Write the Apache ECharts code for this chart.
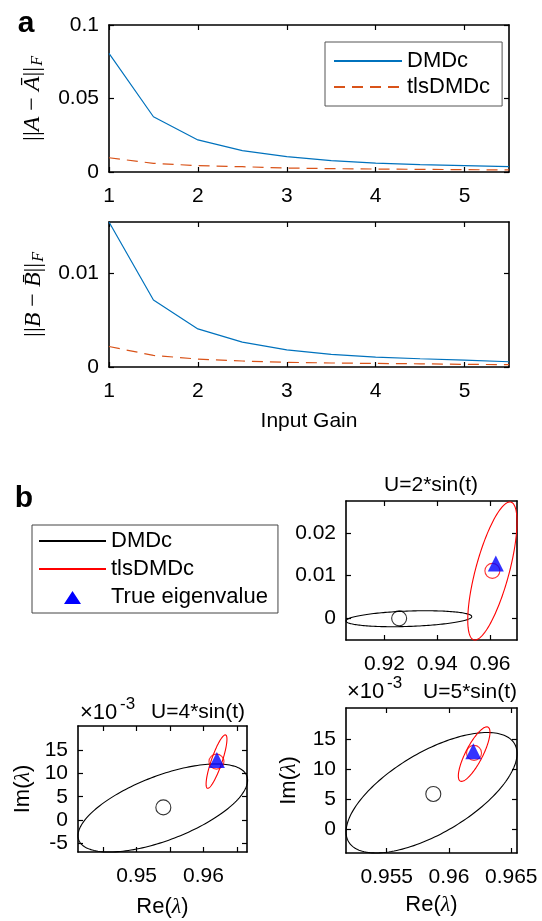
<!DOCTYPE html>
<html>
<head>
<meta charset="utf-8">
<script src="https://cdn.jsdelivr.net/npm/echarts@6/dist/echarts.min.js"></script>
<style>
html, body { margin: 0; background: #fff; }
#chart { width: 542px; height: 921px; }
</style>
</head>
<body>
<div id="chart"></div>
<script>
const FONT = 'Liberation Sans, Arial, sans-serif'
const SERIF = 'Liberation Serif, DejaVu Serif, serif'
const BLUE = '#0072BD'
const ORANGE = '#D95319'

// panel a: error vs input gain
const inputGain = [1, 1.5, 2, 2.5, 3, 3.5, 4, 4.5, 5, 5.5]
const errA_dmdc = [0.0807, 0.0376, 0.0218, 0.0145, 0.0104, 0.0077, 0.0061, 0.005, 0.0043, 0.0036]
const errA_tls = [0.0097, 0.0059, 0.0043, 0.0036, 0.0027, 0.0023, 0.002, 0.0018, 0.0016, 0.0014]
const errB_dmdc = [0.0155, 0.00716, 0.00407, 0.00266, 0.00184, 0.00134, 0.00106, 0.00088, 0.00074, 0.00056]
const errB_tls = [0.00219, 0.00124, 0.00085, 0.00064, 0.0005, 0.00043, 0.00038, 0.00034, 0.00028, 0.00025]
const gainTicks = [1, 2, 3, 4, 5]
const errATicks = [0, 0.05, 0.1]
const errBTicks = [0, 0.01]

// panel b: eigenvalue scatter, one entry per input case
// (U=4 and U=5 imaginary parts are in units of 1e-3)
const caseTitles = ['U=2*sin(t)', 'U=4*sin(t)', 'U=5*sin(t)']
const reRange = [[0.90545, 0.97019], [0.94123, 0.96652], [0.95173, 0.96546]]
const imRange = [[-0.00507, 0.02748], [-6.8, 20.1], [-3.86, 20.1]]
const reTicks = [[0.92, 0.94, 0.96], [0.945, 0.95, 0.955, 0.96, 0.965], [0.955, 0.96, 0.965]]
const reTickLabels = [[0.92, 0.94, 0.96], [0.95, 0.96], [0.955, 0.96, 0.965]]
const imTicks = [[0, 0.01, 0.02], [-5, 0, 5, 10, 15], [0, 5, 10, 15]]
// ellipse: [centre re, centre im, half width re, half height im, correlation]
const ellipseDMDc = [[0.92926, -0.00009, 0.0238, 0.00187, 0.27], [0.95392, 2.6, 0.01269, 9.4, 0.63], [0.9586, 6.1, 0.006865, 9.95, 0.65]]
const ellipseTls = [[0.96087, 0.01109, 0.00932, 0.01616, 0.71], [0.96196, 12.5, 0.00156, 5.7, 0.84], [0.96202, 12.48, 0.00127, 4.5, 0.8]]
const meanDMDc = [[0.92557, 0], [0.954, 2.72], [0.95874, 5.9]]
const meanTls = [[0.96087, 0.01112], [0.96195, 12.5], [0.96201, 12.68]]
const trueEig = [[0.96216, 0.01285], [0.96201, 12.85], [0.96195, 12.95]]

const grids = []
const xAxes = []
const yAxes = []

function fmt(v) {
	return String(Math.round(v * 1e6) / 1e6)
}

function axisDef(dim, g, c, mirror) {
	return {
		type: 'value',
		gridIndex: g,
		position: dim === 'x' ? (mirror ? 'top' : 'bottom') : mirror ? 'right' : 'left',
		min: c.min,
		max: c.max,
		name: mirror ? '' : c.name || '',
		nameLocation: 'middle',
		nameGap: c.nameGap,
		nameTextStyle: c.nameStyle,
		axisLine: { show: true, onZero: false, lineStyle: { color: '#000', width: 1.6 } },
		axisTick: { show: true, inside: true, length: 5, customValues: c.ticks, lineStyle: { color: '#000', width: 1.2 } },
		axisLabel: {
			show: !mirror,
			customValues: c.labels || c.ticks,
			formatter: fmt,
			margin: dim === 'x' ? 14 : 10,
			fontSize: c.fontSize || 21,
			fontFamily: FONT,
			color: '#000'
		},
		splitLine: { show: false }
	}
}

function addPanel(rect, xCfg, yCfg) {
	const g = grids.length
	grids.push({ left: rect[0], top: rect[1], width: rect[2], height: rect[3], containLabel: false, outerBoundsMode: 'none' })
	;[false, true].forEach(function (mirror) {
		xAxes.push(axisDef('x', g, xCfg, mirror))
		yAxes.push(axisDef('y', g, yCfg, mirror))
	})
	return g
}

const normRich = {
	r: { fontFamily: SERIF, fontSize: 24, lineHeight: 26, color: '#000' },
	i: { fontFamily: SERIF, fontStyle: 'italic', fontSize: 24, lineHeight: 26, color: '#000' },
	s: { fontFamily: SERIF, fontStyle: 'italic', fontSize: 16, lineHeight: 16, padding: [10, 0, 0, 1], verticalAlign: 'bottom', color: '#000' }
}
const lambdaRich = {
	t: { fontFamily: FONT, fontSize: 22, color: '#000' },
	l: { fontFamily: SERIF, fontStyle: 'italic', fontSize: 22, color: '#000' }
}
const gainName = { fontFamily: FONT, fontSize: 21, color: '#000' }

const gA = addPanel([109, 25, 400, 147],
	{ min: 1, max: 5.5, ticks: gainTicks },
	{ min: 0, max: 0.1, ticks: errATicks, name: '{r|||}{i|A}{r| − }{i|Ā}{r|||}{s|F}', nameGap: 63, nameStyle: { rich: normRich } })
const gB = addPanel([109, 222, 400, 145],
	{ min: 1, max: 5.5, ticks: gainTicks, name: 'Input Gain', nameGap: 44, nameStyle: gainName },
	{ min: 0, max: 0.0155, ticks: errBTicks, name: '{r|||}{i|B}{r| − }{i|B\u0304}{r|||}{s|F}', nameGap: 62, nameStyle: { rich: normRich } })

const caseRects = [[346, 501, 171, 139], [78, 726, 169, 126], [346, 708, 171, 145]]
const reNameGap = [0, 44, 41]
const imNameGap = [0, 44, 46]
const caseGrids = caseTitles.map(function (t, k) {
	return addPanel(caseRects[k],
		{
			min: reRange[k][0], max: reRange[k][1], ticks: reTicks[k], labels: reTickLabels[k],
			name: k === 0 ? '' : '{t|Re(}{l|λ}{t|)}', nameGap: reNameGap[k], nameStyle: { rich: lambdaRich }
		},
		{
			min: imRange[k][0], max: imRange[k][1], ticks: imTicks[k],
			name: k === 0 ? '' : '{t|Im(}{l|λ}{t|)}', nameGap: imNameGap[k], nameStyle: { rich: lambdaRich }
		})
})

function pairs(xs, ys) {
	return xs.map(function (x, i) { return [x, ys[i]] })
}

function lineSeries(name, g, ys, color, dashed) {
	return {
		type: 'line',
		name: name,
		xAxisIndex: 2 * g,
		yAxisIndex: 2 * g,
		data: pairs(inputGain, ys),
		symbol: 'none',
		silent: true,
		itemStyle: { color: color },
		lineStyle: { color: color, width: 1.2, type: dashed ? [11, 7] : 'solid' }
	}
}

function ellipseSeries(name, g, e, color) {
	return {
		type: 'custom',
		name: name,
		xAxisIndex: 2 * g,
		yAxisIndex: 2 * g,
		silent: true,
		data: [e],
		renderItem: function (params, api) {
			const cx = api.value(0)
			const cy = api.value(1)
			const dx = api.value(2)
			const dy = api.value(3)
			const rho = api.value(4)
			const s = Math.sqrt(1 - rho * rho)
			const pts = []
			for (let k = 0; k <= 180; k++) {
				const t = (k / 180) * 2 * Math.PI
				pts.push(api.coord([cx + dx * Math.cos(t), cy + dy * (rho * Math.cos(t) + s * Math.sin(t))]))
			}
			return { type: 'polyline', shape: { points: pts }, style: { stroke: color, fill: null, lineWidth: 1.1 } }
		}
	}
}

function markerSeries(name, g, pt, symbol, size, style, z) {
	return {
		type: 'scatter',
		name: name,
		xAxisIndex: 2 * g,
		yAxisIndex: 2 * g,
		silent: true,
		z: z,
		data: [pt],
		symbol: symbol,
		symbolSize: size,
		itemStyle: style
	}
}

const series = [
	lineSeries('DMDc', gA, errA_dmdc, BLUE, false),
	lineSeries('tlsDMDc', gA, errA_tls, ORANGE, true),
	lineSeries('DMDc', gB, errB_dmdc, BLUE, false),
	lineSeries('tlsDMDc', gB, errB_tls, ORANGE, true),
	// legend-only entries for panel b
	{ type: 'line', name: 'b:DMDc', xAxisIndex: 2 * caseGrids[0], yAxisIndex: 2 * caseGrids[0], data: [], symbol: 'none', itemStyle: { color: '#000' }, lineStyle: { color: '#000', width: 1.1 } },
	{ type: 'line', name: 'b:tlsDMDc', xAxisIndex: 2 * caseGrids[0], yAxisIndex: 2 * caseGrids[0], data: [], symbol: 'none', itemStyle: { color: '#FF0000' }, lineStyle: { color: '#FF0000', width: 1.1 } }
]

caseGrids.forEach(function (g, k) {
	series.push(ellipseSeries('DMDc ellipse', g, ellipseDMDc[k], '#000'))
	series.push(ellipseSeries('tlsDMDc ellipse', g, ellipseTls[k], '#FF0000'))
	series.push(markerSeries('DMDc mean', g, meanDMDc[k], 'circle', 15, { color: 'transparent', borderColor: '#000', borderWidth: 1.1 }, 3))
	series.push(markerSeries('tlsDMDc mean', g, meanTls[k], 'circle', 15, { color: 'transparent', borderColor: '#FF0000', borderWidth: 1.1 }, 3))
	series.push(markerSeries('True eigenvalue', g, trueEig[k], 'triangle', 16, { color: '#0000FF' }, 4))
})

function text(x, y, str, size, extra) {
	return {
		type: 'text',
		x: x,
		y: y,
		silent: true,
		style: Object.assign({
			text: str,
			fontFamily: FONT,
			fontSize: size,
			fill: '#000',
			textAlign: 'center',
			textVerticalAlign: 'middle'
		}, extra || {})
	}
}

const legendText = { fontSize: 22, fontFamily: FONT, color: '#000' }
// triangle icon padded to the 67x14 legend cell so it is not stretched
const triangleIcon = 'path://M0,0L0.01,0L0,0.01Z M67,14L66.99,14L67,13.99Z M33.5,1L42,14L25,14Z'

const option = {
	animation: false,
	backgroundColor: '#fff',
	grid: grids,
	xAxis: xAxes,
	yAxis: yAxes,
	legend: [
		{
			left: 325,
			top: 42,
			orient: 'vertical',
			data: ['DMDc', 'tlsDMDc'],
			itemWidth: 68,
			itemHeight: 14,
			itemGap: 4,
			padding: [8, 12, 8, 8],
			borderColor: '#555',
			borderWidth: 1,
			backgroundColor: '#fff',
			selectedMode: false,
			itemStyle: { opacity: 0 },
			textStyle: legendText
		},
		{
			left: 32,
			top: 525,
			orient: 'vertical',
			data: [
				{ name: 'b:DMDc' },
				{ name: 'b:tlsDMDc' },
				{ name: 'True eigenvalue', icon: triangleIcon, itemStyle: { opacity: 1, color: '#0000FF' } }
			],
			formatter: function (n) { return n.replace('b:', '') },
			itemWidth: 67,
			itemHeight: 14,
			itemGap: 6,
			padding: [5, 10, 5, 6],
			borderColor: '#444',
			borderWidth: 1,
			backgroundColor: '#fff',
			selectedMode: false,
			itemStyle: { opacity: 0 },
			textStyle: legendText
		}
	],
	graphic: [
		text(26, 24, 'a', 30, { fontWeight: 'bold' }),
		text(24, 499, 'b', 30, { fontWeight: 'bold' }),
		text(431, 485, caseTitles[0], 21),
		text(198, 712, caseTitles[1], 21),
		text(470, 692, caseTitles[2], 21),
		text(80, 713, '×10', 22, { textAlign: 'left' }),
		text(120, 704, '-3', 17, { textAlign: 'left' }),
		text(347, 692, '×10', 22, { textAlign: 'left' }),
		text(387, 683, '-3', 17, { textAlign: 'left' })
	],
	series: series
}

const chart = echarts.init(document.getElementById('chart'))
chart.setOption(option)
</script>
</body>
</html>
